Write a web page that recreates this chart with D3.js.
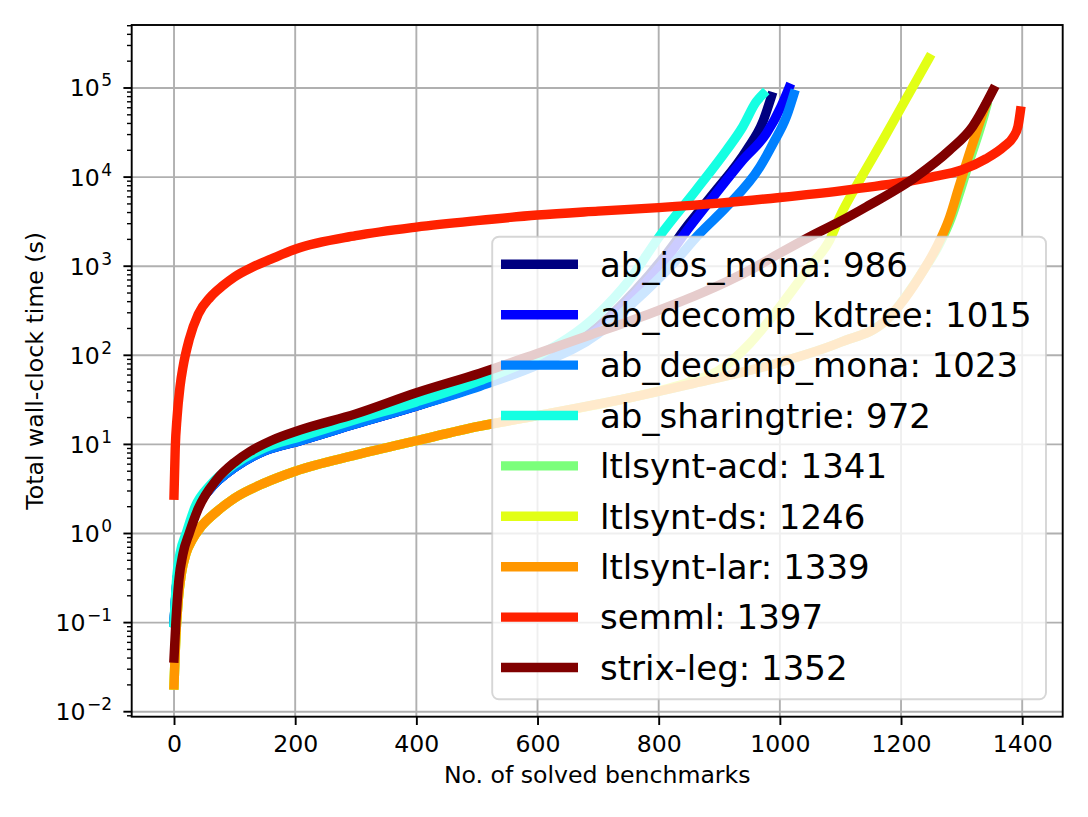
<!DOCTYPE html>
<html>
<head>
<meta charset="utf-8">
<script src="https://cdn.jsdelivr.net/npm/d3@7"></script>
<style>
  html, body { margin: 0; padding: 0; background: #fff; }
  svg { display: block; font-family: "DejaVu Sans", sans-serif; }
</style>
</head>
<body>
<svg id="chart" width="1088" height="817"></svg>
<script>
// ---------------- data ----------------
const seriesNames = ["ab_ios_mona", "ab_decomp_kdtree", "ab_decomp_mona", "ab_sharingtrie",
  "ltlsynt-acd", "ltlsynt-ds", "ltlsynt-lar", "semml", "strix-leg"];
const solvedCounts = [986, 1015, 1023, 972, 1341, 1246, 1339, 1397, 1352];
const seriesColors = ["#000080", "#0000ff", "#0080ff", "#15ffe2", "#7bff7b", "#e2ff15", "#ff9700", "#ff2100", "#800000"];

// [solved benchmarks, cumulative wall-clock time (s)]
const abIosMona = [[0,0.1],[5,0.3],[10,0.5],[20,0.9],[35,1.8],[60,3.2],[100,5.5],[150,8.5],[208,11],[300,17],[400,27],[505,46],[600,82],[700,210],[760,520],[810,1300],[850,3000],[890,6500],[945,20000],[972,42000],[986,80000]];
const abDecompKdtree = [[0,0.1],[5,0.3],[10,0.5],[20,0.9],[35,1.8],[60,3.2],[100,5.5],[150,8.5],[208,11],[300,17],[400,27],[505,46],[600,80],[700,195],[760,480],[810,1150],[850,2700],[890,6000],[939,15600],[978,31000],[1002,62000],[1015,100000]];
const abDecompMona = [[0,0.1],[5,0.3],[10,0.5],[20,0.9],[35,1.8],[60,3.2],[100,5.5],[150,8.5],[208,11],[300,17],[400,27],[505,45],[600,78],[700,175],[760,400],[820,1000],[868,2340],[912,4640],[967,13000],[989,24000],[1011,48000],[1023,85000]];
const abSharingtrie = [[0,0.1],[5,0.35],[10,0.6],[20,1.0],[35,2.0],[60,3.5],[100,6],[150,9.2],[208,12.2],[300,19],[400,30],[505,52],[600,98],[700,290],[750,680],[802,2200],[862,7200],[912,20000],[939,37000],[961,70000],[972,85000]];
const ltlsyntAcd = [[0,0.02],[3,0.07],[7,0.18],[12,0.35],[20,0.6],[30,0.85],[45,1.2],[70,1.75],[100,2.5],[150,3.7],[200,5.0],[300,7.6],[400,11],[505,16],[600,21],[749,33],[850,47],[993,81],[1100,140],[1176,250],[1237,900],[1262,1700],[1283,3500],[1299,7500],[1314,16000],[1328,31000],[1338,52000],[1341,62000]];
const ltlsyntDs = [[0,0.02],[3,0.07],[7,0.18],[12,0.35],[20,0.6],[30,0.85],[45,1.2],[70,1.75],[100,2.5],[150,3.7],[200,5.0],[300,7.6],[400,11],[505,16],[600,21],[749,33],[850,50],[900,68],[950,135],[1000,350],[1050,1000],[1082,1950],[1099,3600],[1132,9300],[1170,26000],[1200,60000],[1225,120000],[1246,215000]];
const ltlsyntLar = [[0,0.02],[3,0.07],[7,0.18],[12,0.35],[20,0.6],[30,0.85],[45,1.2],[70,1.75],[100,2.5],[150,3.7],[200,5.0],[300,7.6],[400,11],[505,16],[600,21],[749,33],[850,47],[993,81],[1100,140],[1176,250],[1237,900],[1260,1700],[1280,3500],[1295,7500],[1310,16000],[1324,31000],[1335,52000],[1339,62000]];
const semml = [[0,2.7],[2,9],[5,20],[10,45],[15,75],[25,150],[40,290],[60,450],[80,600],[100,760],[130,980],[160,1200],[200,1550],[300,2200],[400,2750],[500,3250],[600,3750],[700,4150],[800,4550],[900,5100],[1000,5900],[1100,7000],[1200,8700],[1250,10000],[1300,12000],[1340,16000],[1370,22000],[1385,28000],[1393,37000],[1397,55000]];
const strixLeg = [[0,0.04],[3,0.1],[8,0.3],[15,0.6],[25,1.0],[40,1.9],[70,4],[100,6.3],[125,8.3],[160,11],[208,14.5],[300,22],[400,38],[505,63],[600,105],[688,170],[800,320],[871,500],[950,900],[1000,1400],[1055,2240],[1100,3200],[1143,4650],[1225,10100],[1280,20000],[1318,36800],[1352,95000]];
const seriesData = [abIosMona, abDecompKdtree, abDecompMona, abSharingtrie, ltlsyntAcd, ltlsyntDs, ltlsyntLar, semml, strixLeg];

const xTicks = [0, 200, 400, 600, 800, 1000, 1200, 1400];
const yExponents = [-2, -1, 0, 1, 2, 3, 4, 5];
const xLabel = "No. of solved benchmarks";
const yLabel = "Total wall-clock time (s)";

// ---------------- layout ----------------
const plot = { left: 131.7, right: 1062.7, top: 25, bottom: 716.7 };
const tickFont = 23.6, legendFont = 34;
const lw = 9.4;

const svg = d3.select("#chart");

const x = d3.scaleLinear().domain([-69.85, 1466.85]).range([plot.left, plot.right]);
const y = d3.scaleLog().domain([Math.pow(10, -2.056), Math.pow(10, 5.707)]).range([plot.bottom, plot.top]);

// grid
const grid = svg.append("g");
xTicks.forEach(t => {
  grid.append("line").attr("x1", x(t)).attr("x2", x(t)).attr("y1", plot.top).attr("y2", plot.bottom)
    .attr("stroke", "#b0b0b0").attr("stroke-width", 1.9);
});
yExponents.forEach(e => {
  const v = Math.pow(10, e);
  grid.append("line").attr("x1", plot.left).attr("x2", plot.right).attr("y1", y(v)).attr("y2", y(v))
    .attr("stroke", "#b0b0b0").attr("stroke-width", 1.9);
});

// lines
svg.append("clipPath").attr("id", "clip").append("rect")
  .attr("x", plot.left).attr("y", plot.top).attr("width", plot.right - plot.left).attr("height", plot.bottom - plot.top);
const line = d3.line().x(d => x(d[0])).y(d => y(d[1])).curve(d3.curveMonotoneX);
const linesG = svg.append("g").attr("clip-path", "url(#clip)");
seriesData.forEach((s, i) => {
  linesG.append("path").attr("d", line(s)).attr("fill", "none")
    .attr("stroke", seriesColors[i]).attr("stroke-width", lw)
    .attr("stroke-linecap", "square").attr("stroke-linejoin", "round");
});

// axes spines
svg.append("rect").attr("x", plot.left).attr("y", plot.top)
  .attr("width", plot.right - plot.left).attr("height", plot.bottom - plot.top)
  .attr("fill", "none").attr("stroke", "#000").attr("stroke-width", 1.9);

// x axis ticks
const xAxis = d3.axisBottom(x).tickValues(xTicks).tickSize(8.3).tickPadding(8.3).tickFormat(d3.format("d"));
const gx = svg.append("g").attr("transform", `translate(0,${plot.bottom})`).call(xAxis);
gx.select(".domain").remove();
gx.selectAll(".tick line").attr("stroke", "#000").attr("stroke-width", 1.9);
gx.selectAll(".tick text").attr("font-size", tickFont).attr("font-family", "DejaVu Sans").attr("fill", "#000")
  .attr("dy", null).attr("y", 35);

// y axis ticks
const yMinor = [];
for (let e = -3; e <= 5; e++) for (let k = 2; k <= 9; k++) {
  const v = k * Math.pow(10, e);
  if (v >= y.domain()[0] && v <= y.domain()[1]) yMinor.push(v);
}
const gy = svg.append("g");
yMinor.forEach(v => {
  gy.append("line").attr("x1", plot.left - 4.7).attr("x2", plot.left).attr("y1", y(v)).attr("y2", y(v))
    .attr("stroke", "#000").attr("stroke-width", 1.4);
});
yExponents.forEach(e => {
  const v = Math.pow(10, e);
  gy.append("line").attr("x1", plot.left - 8.3).attr("x2", plot.left).attr("y1", y(v)).attr("y2", y(v))
    .attr("stroke", "#000").attr("stroke-width", 1.9);
  const t = gy.append("text").attr("x", 112).attr("y", y(v) + 8.5)
    .attr("text-anchor", "end").attr("font-size", tickFont).attr("fill", "#000");
  t.append("tspan").text("10");
  t.append("tspan").attr("dx", 1.5).attr("dy", -10).attr("font-size", tickFont * 0.72)
    .text(e < 0 ? "\u2212" + Math.abs(e) : String(e));
});

// axis labels
svg.append("text").attr("x", (plot.left + plot.right) / 2).attr("y", 782.7)
  .attr("text-anchor", "middle").attr("font-size", tickFont).attr("fill", "#000").text(xLabel);
svg.append("text").attr("transform", `translate(43.3,${(plot.top + plot.bottom) / 2}) rotate(-90)`)
  .attr("text-anchor", "middle").attr("font-size", tickFont).attr("fill", "#000").text(yLabel);

// legend
const leg = svg.append("g");
leg.append("rect").attr("x", 492.2).attr("y", 236.7).attr("width", 553.8).attr("height", 462.6)
  .attr("rx", 6.8).attr("ry", 6.8)
  .attr("fill", "#fff").attr("fill-opacity", 0.8)
  .attr("stroke", "#cccccc").attr("stroke-opacity", 0.8).attr("stroke-width", 1.9);
seriesNames.forEach((n, i) => {
  const cy = 264.3 + i * 50.4;
  leg.append("line").attr("x1", 505.7).attr("x2", 573.3).attr("y1", cy).attr("y2", cy)
    .attr("stroke", seriesColors[i]).attr("stroke-width", lw).attr("stroke-linecap", "square");
  leg.append("text").attr("x", 600).attr("y", cy + 12.2).attr("font-size", legendFont).attr("fill", "#000")
    .text(`${n}: ${solvedCounts[i]}`);
});
</script>
</body>
</html>
